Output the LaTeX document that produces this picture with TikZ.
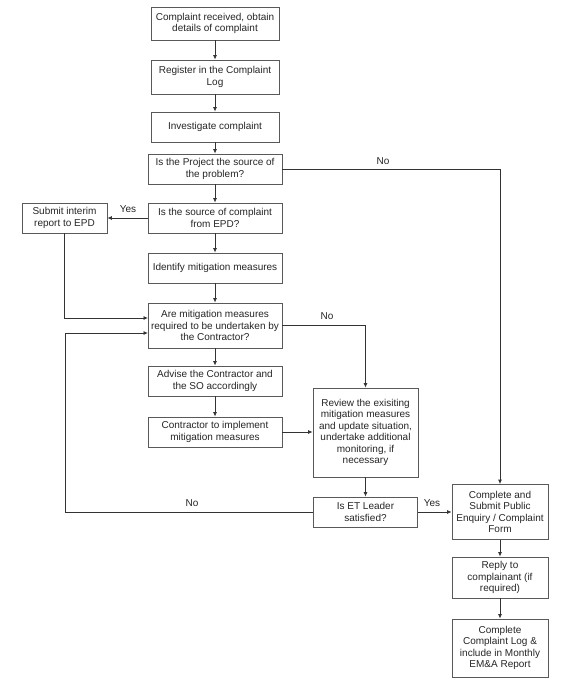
\documentclass[tikz,border=0pt]{standalone}
\usepackage{fontspec}
\setmainfont{Liberation Sans}
\usetikzlibrary{arrows.meta}
\begin{document}
\begin{tikzpicture}[x=1pt,y=-1pt,
  box/.style={draw=black!65, line width=0.8pt, align=center, font=\fontsize{10}{11.5}\selectfont, inner sep=1pt, text=black!85},
  conn/.style={draw=black!80, line width=0.8pt, -{Latex[length=4.5pt,width=4pt]}},
  lbl/.style={font=\fontsize{10}{11.5}\selectfont, text=black!85}]
\useasboundingbox[fill=white] (0,0) rectangle (569,684);
\node[box, minimum width=128pt, minimum height=33pt] (n1) at (215,23.5) {Complaint received, obtain\\details of complaint};
\node[box, minimum width=128pt, minimum height=34pt] (n2) at (215,77) {Register in the Complaint\\Log};
\node[box, minimum width=128pt, minimum height=30pt] (n3) at (215,127) {Investigate complaint};
\node[box, minimum width=134pt, minimum height=30pt] (n4) at (215,169) {Is the Project the source of\\the problem?};
\node[box, minimum width=134pt, minimum height=30pt] (n5) at (215,218) {Is the source of complaint\\from EPD?};
\node[box, minimum width=85pt, minimum height=30pt] (interim) at (64.5,218) {Submit interim\\report to EPD};
\node[box, minimum width=134pt, minimum height=30pt] (n6) at (215,268) {Identify mitigation measures};
\node[box, minimum width=134pt, minimum height=45pt] (n7) at (215,325.5) {Are mitigation measures\\required to be undertaken by\\the Contractor?};
\node[box, minimum width=134pt, minimum height=30pt] (n8) at (215,381) {Advise the Contractor and\\the SO accordingly};
\node[box, minimum width=134pt, minimum height=30pt] (n9) at (215,432) {Contractor to implement\\mitigation measures};
\node[box, minimum width=105pt, minimum height=89pt] (review) at (365.5,432.5) {Review the exisiting\\mitigation measures\\and update situation,\\undertake additional\\monitoring, if\\necessary};
\node[box, minimum width=104pt, minimum height=30pt] (et) at (365.5,512) {Is ET Leader\\satisfied?};
\node[box, minimum width=96pt, minimum height=55pt] (complete) at (500,512) {Complete and\\Submit Public\\Enquiry / Complaint\\Form};
\node[box, minimum width=96pt, minimum height=41pt] (reply) at (500,577.5) {Reply to\\complainant (if\\required)};
\node[box, minimum width=96pt, minimum height=58pt] (final) at (500,648) {Complete\\Complaint Log \&\\include in Monthly\\EM\&A Report};
\coordinate (m7a) at (148,318);
\coordinate (m7b) at (148,333);
\coordinate (lc) at (65,333);
\draw[conn] (n1) -- (n2);
\draw[conn] (n2) -- (n3);
\draw[conn] (n3) -- (n4);
\draw[conn] (n4) -- (n5);
\draw[conn] (n5) -- (n6);
\draw[conn] (n6) -- (n7);
\draw[conn] (n7) -- (n8);
\draw[conn] (n8) -- (n9);
\draw[conn] (n5) -- (interim);
\draw[conn] (interim.south) |- (m7a);
\draw[conn] (et.west) -| (lc) -- (m7b);
\draw[conn] (n4.east) -| (complete.north);
\draw[conn] (n7.east) -| (review.north);
\draw[conn] (n9.east) -- (n9.east -| review.west);
\draw[conn] (review) -- (et);
\draw[conn] (et) -- (complete);
\draw[conn] (complete) -- (reply);
\draw[conn] (reply) -- (final);
\node[lbl] (l1) at (128,209) {Yes};
\node[lbl] (l2) at (383,161) {No};
\node[lbl] (l3) at (327,316) {No};
\node[lbl] (l4) at (192,503) {No};
\node[lbl] (l5) at (432,503) {Yes};
\end{tikzpicture}
\end{document}
